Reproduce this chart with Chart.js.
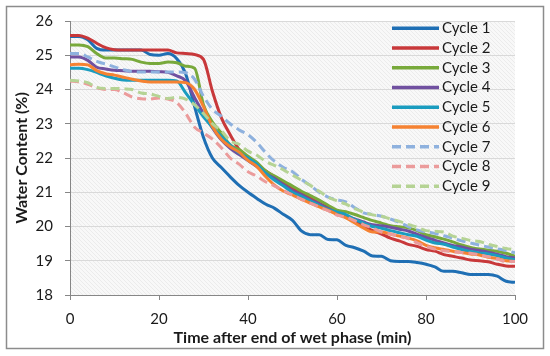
<!DOCTYPE html>
<html>
<head>
<meta charset="utf-8">
<script src="https://cdn.jsdelivr.net/npm/chart.js@4"></script>
<style>
  body { margin: 0; background: #fff; }
  #wrap { position: relative; width: 550px; height: 356px; }
</style>
</head>
<body>
<div id="wrap"><canvas id="chart1"></canvas></div>
<script>
// time after end of wet phase (min)
const minutes = [0, 2, 4, 6, 8, 10, 12, 14, 16, 18, 20, 22, 24, 26, 28, 30, 32, 34, 36, 38, 40,
  42, 44, 46, 48, 50, 52, 54, 56, 58, 60, 62, 64, 66, 68, 70, 72, 74, 76, 78, 80,
  82, 84, 86, 88, 90, 92, 94, 96, 98, 100];

// water content (%) per cycle
const cycle1 = [25.55, 25.55, 25.45, 25.2, 25.15, 25.15, 25.15, 25.15, 25.15, 25.02, 25.0, 25.05, 24.9, 24.45, 23.5, 22.6, 22.0, 21.72, 21.45, 21.2, 21.0,
  20.82, 20.65, 20.53, 20.35, 20.18, 19.87, 19.76, 19.76, 19.62, 19.61, 19.45, 19.38, 19.28, 19.14, 19.13, 19.0, 18.98, 18.98, 18.95, 18.9,
  18.82, 18.69, 18.69, 18.65, 18.6, 18.6, 18.6, 18.55, 18.4, 18.37];
const cycle2 = [25.58, 25.58, 25.5, 25.35, 25.22, 25.16, 25.15, 25.15, 25.15, 25.15, 25.15, 25.15, 25.07, 25.05, 25.02, 24.88, 23.95, 23.18, 22.68, 22.25, 22.0,
  21.82, 21.62, 21.45, 21.3, 21.12, 20.98, 20.83, 20.68, 20.55, 20.42, 20.3, 20.15, 20.02, 19.88, 19.78, 19.66, 19.58, 19.48, 19.42, 19.33,
  19.28, 19.18, 19.13, 19.08, 19.02, 19.0, 18.97, 18.9, 18.85, 18.84];
const cycle3 = [25.3, 25.3, 25.25, 25.05, 24.92, 24.92, 24.9, 24.88, 24.8, 24.76, 24.76, 24.8, 24.78, 24.68, 24.62, 23.55, 23.05, 22.73, 22.38, 22.25, 22.05,
  21.87, 21.62, 21.47, 21.33, 21.18, 21.03, 20.9, 20.77, 20.62, 20.48, 20.43, 20.35, 20.26, 20.17, 20.1, 20.02, 19.99, 19.96, 19.88, 19.76,
  19.7, 19.63, 19.55, 19.46, 19.39, 19.34, 19.31, 19.28, 19.22, 19.13];
const cycle4 = [24.95, 24.95, 24.85, 24.65, 24.6, 24.56, 24.55, 24.53, 24.53, 24.53, 24.52, 24.5, 24.4, 24.25, 23.76, 23.3, 22.88, 22.53, 22.28, 22.1, 21.93,
  21.75, 21.55, 21.4, 21.22, 21.05, 20.93, 20.78, 20.66, 20.52, 20.4, 20.3, 20.22, 20.13, 20.05, 20.02, 19.98, 19.92, 19.87, 19.78, 19.68,
  19.6, 19.52, 19.45, 19.4, 19.34, 19.3, 19.25, 19.19, 19.12, 19.08];
const cycle5 = [24.62, 24.62, 24.58, 24.5, 24.4, 24.33, 24.28, 24.27, 24.27, 24.27, 24.27, 24.27, 24.25, 23.9, 23.55, 23.2, 22.9, 22.63, 22.38, 22.15, 22.0,
  21.82, 21.55, 21.35, 21.18, 21.0, 20.88, 20.75, 20.62, 20.5, 20.42, 20.35, 20.2, 20.1, 20.0, 19.95, 19.88, 19.82, 19.76, 19.71, 19.6,
  19.52, 19.48, 19.4, 19.33, 19.27, 19.23, 19.2, 19.15, 19.08, 19.03];
const cycle6 = [24.72, 24.74, 24.72, 24.55, 24.46, 24.42, 24.36, 24.3, 24.25, 24.22, 24.22, 24.22, 24.22, 24.2, 24.0, 23.5, 22.92, 22.55, 22.33, 22.17, 21.93,
  21.75, 21.45, 21.2, 21.03, 20.92, 20.79, 20.68, 20.57, 20.47, 20.35, 20.25, 20.1, 19.95, 19.84, 19.84, 19.78, 19.72, 19.66, 19.58, 19.45,
  19.38, 19.33, 19.28, 19.24, 19.2, 19.17, 19.1, 19.06, 19.0, 18.98];
const cycle7 = [25.05, 25.05, 24.95, 24.82, 24.74, 24.66, 24.58, 24.52, 24.51, 24.51, 24.51, 24.51, 24.51, 24.49, 24.3, 23.8, 23.42, 23.22, 23.0, 22.82, 22.68,
  22.45, 22.15, 21.9, 21.72, 21.6, 21.38, 21.2, 21.0, 20.86, 20.78, 20.72, 20.55, 20.4, 20.35, 20.3, 20.22, 20.12, 20.0, 19.9, 19.84,
  19.8, 19.73, 19.66, 19.58, 19.52, 19.46, 19.4, 19.35, 19.3, 19.23];
const cycle8 = [24.25, 24.22, 24.15, 24.05, 24.0, 24.0, 23.9, 23.78, 23.73, 23.72, 23.75, 23.72, 23.62, 23.3, 22.9, 22.73, 22.55, 22.3, 22.0, 21.82, 21.6,
  21.47, 21.3, 21.18, 21.05, 20.92, 20.8, 20.68, 20.57, 20.46, 20.33, 20.28, 20.17, 20.05, 19.95, 19.84, 19.78, 19.71, 19.65, 19.52, 19.42,
  19.34, 19.29, 19.26, 19.24, 19.22, 19.17, 19.12, 19.05, 18.98, 18.98];
const cycle9 = [24.27, 24.25, 24.2, 24.06, 24.03, 24.03, 24.02, 24.0, 23.9, 23.87, 23.8, 23.74, 23.77, 23.72, 23.55, 23.3, 23.0, 22.8, 22.5, 22.4, 22.2,
  22.08, 21.9, 21.78, 21.65, 21.5, 21.35, 21.2, 21.03, 20.86, 20.75, 20.65, 20.52, 20.42, 20.34, 20.3, 20.22, 20.15, 20.06, 19.98, 19.88,
  19.86, 19.84, 19.72, 19.66, 19.59, 19.56, 19.48, 19.42, 19.36, 19.32];

const labels = ["Cycle 1", "Cycle 2", "Cycle 3", "Cycle 4", "Cycle 5", "Cycle 6", "Cycle 7", "Cycle 8", "Cycle 9"];
const series = [cycle1, cycle2, cycle3, cycle4, cycle5, cycle6, cycle7, cycle8, cycle9];
const colors = ["#1F6FB4", "#C8383A", "#78A93B", "#7050A0", "#1A9CBF", "#F58232", "#8EB1DE", "#EB9B9B", "#B5D394"];
const dashed = [false, false, false, false, false, false, true, true, true];

Chart.defaults.font.family = "Lato";
Chart.defaults.color = "#1a1a1a";

const myDatasets = [];
for (let i = 0; i < series.length; i++) {
    myDatasets.push({
        label: labels[i],
        data: series[i].map((v, j) => ({ x: minutes[j], y: v })),
        borderColor: colors[i],
        backgroundColor: colors[i],
        borderDash: dashed[i] ? [9, 5] : [],
        borderWidth: 3,
        pointRadius: 0,
        cubicInterpolationMode: 'monotone',
        order: series.length - i   // later cycles drawn on top, like Excel
    });
}

// hatched light grey background of the plot area
function hatch() {
    const c = document.createElement("canvas");
    c.width = 4; c.height = 4;
    const g = c.getContext("2d");
    g.fillStyle = "#f8f8f8";
    g.fillRect(0, 0, 4, 4);
    g.strokeStyle = "#ebebeb";
    g.lineWidth = 1;
    g.beginPath();
    g.moveTo(-1, -1); g.lineTo(5, 5);
    g.stroke();
    return c;
}

const decor = {
    id: "decor",
    beforeDraw(chart) {
        const ctx = chart.ctx;
        const a = chart.chartArea;
        ctx.save();
        ctx.strokeStyle = "#8c8c8c";
        ctx.lineWidth = 1.5;
        ctx.strokeRect(6.5, 6.5, 537, 342);
        ctx.fillStyle = ctx.createPattern(hatch(), "repeat");
        ctx.fillRect(a.left, a.top, a.right - a.left, a.bottom - a.top);
        ctx.restore();
    },
    // legend drawn inside the plot area, top right
    afterDatasetsDraw(chart) {
        const ctx = chart.ctx;
        const a = chart.chartArea;
        ctx.save();
        ctx.font = "15px Lato";
        ctx.textBaseline = "middle";
        ctx.fillStyle = "#1a1a1a";
        chart.data.datasets.forEach((ds, i) => {
            const y = a.top + 7.3 + i * 19.75;
            ctx.strokeStyle = ds.borderColor;
            ctx.lineWidth = 3.5;
            ctx.setLineDash(ds.borderDash);
            ctx.beginPath();
            ctx.moveTo(a.right - 123, y);
            ctx.lineTo(a.right - 76, y);
            ctx.stroke();
            ctx.fillText(ds.label, a.right - 73, y);
        });
        ctx.restore();
    }
};

const ctx0 = document.getElementById("chart1");

const chart = new Chart(ctx0, {
    type: "line",
    data: { datasets: myDatasets },
    plugins: [decor],
    options: {
        animation: false,
        responsive: true,
        maintainAspectRatio: false,
        layout: { padding: { left: 8, right: 35, top: 21, bottom: 0 } },
        plugins: {
            legend: { display: false },
            tooltip: { enabled: false }
        },
        scales: {
            x: {
                type: "linear",
                min: 0,
                max: 100,
                ticks: { stepSize: 20, padding: 10, font: { size: 15 } },
                grid: { drawOnChartArea: false, tickLength: 5, tickColor: "#868686" },
                border: { color: "#868686" },
                title: {
                    display: true,
                    text: "Time after end of wet phase (min)",
                    font: { size: 16, weight: "bold" },
                    padding: { top: 0, bottom: 9 }
                },
                afterFit: s => { s.height = 61; }
            },
            y: {
                min: 18,
                max: 26,
                ticks: { stepSize: 1, padding: 12, font: { size: 15 } },
                grid: { color: "#d9d9d9", tickLength: 5, tickColor: "#868686" },
                border: { color: "#868686" },
                title: {
                    display: true,
                    text: "Water Content (%)",
                    font: { size: 16, weight: "bold" },
                    padding: { top: 4, bottom: 0 }
                },
                afterFit: s => { s.width = 62; }
            }
        }
    }
});
</script>
</body>
</html>
